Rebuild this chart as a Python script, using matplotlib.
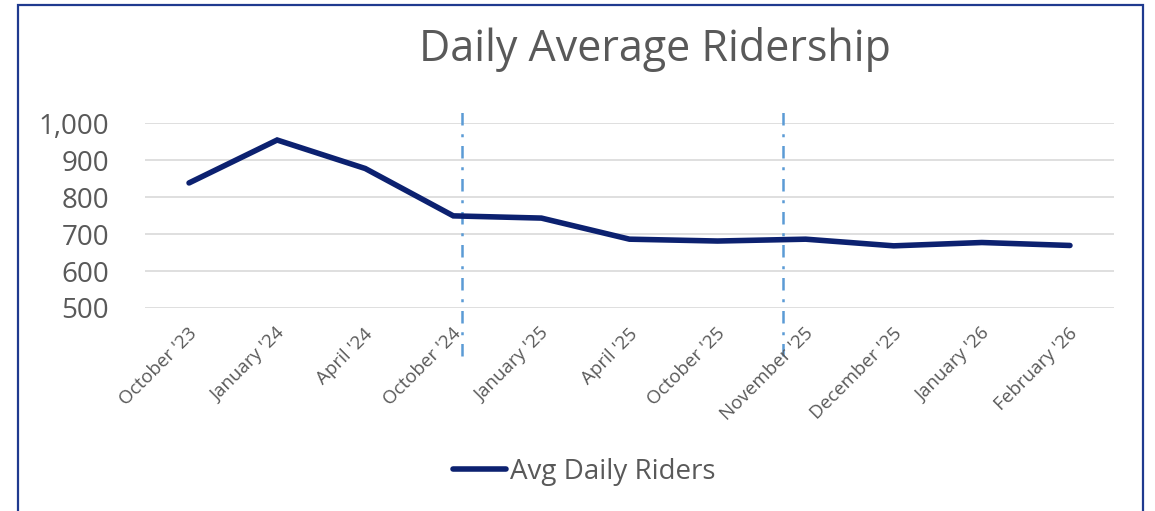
import numpy as np
import matplotlib
matplotlib.use("Agg")
import matplotlib.pyplot as plt
from matplotlib.patches import Rectangle

# data
months = ["October '23", "January '24", "April '24", "October '24", "January '25",
          "April '25", "October '25", "November '25", "December '25",
          "January '26", "February '26"]
riders = [838, 954, 877, 749, 743, 686, 681, 686, 668, 677, 669]
markers_x = [3.1, 6.74]   # dash-dot divider positions (category units)
yticks = [500, 600, 700, 800, 900, 1000]

grey = '#595959'
navy = '#0c2170'

plt.rcParams['font.family'] = ['Open Sans', 'DejaVu Sans']

fig = plt.figure(figsize=(11.55, 5.11), dpi=100)
ax = fig.add_axes([145 / 1155, 1 - 308 / 511, (1114 - 145) / 1155, (308 - 123) / 511])

x = np.arange(len(months))
ax.plot(x, riders, color=navy, lw=4, solid_capstyle='round', solid_joinstyle='miter',
        label='Avg Daily Riders', zorder=3)

# vertical dash-dot dividers that run past the plot area
for mx in markers_x:
    ax.plot([mx, mx], [370, 1040], color='#5b9bd5', lw=1.8, ls=(0, (5, 3.5, 1.2, 3.5)),
            clip_on=False, zorder=2)

ax.set_xlim(-0.5, len(months) - 0.5)
ax.set_ylim(500, 1000)
ax.set_yticks(yticks)
ax.set_yticklabels([f'{v:,}' for v in yticks], fontsize=20, color=grey)
ax.yaxis.grid(True, color='#d9d9d9', lw=1.2)
ax.set_axisbelow(True)
ax.tick_params(axis='y', length=0, pad=26)
ax.tick_params(axis='x', length=0)
for s in ax.spines.values():
    s.set_visible(False)

ax.set_xticks(x)
ax.set_xticklabels([])
for i, m in enumerate(months):
    ax.annotate(m, xy=(i, 500), xycoords='data', xytext=(-1, -12), textcoords='offset points',
                rotation=45, ha='right', va='top', rotation_mode='anchor',
                fontsize=13.5, color=grey)

fig.text(655 / 1155, 1 - 50 / 511, 'Daily Average Ridership', ha='center', va='center',
         fontsize=31, color=grey)

leg = fig.legend(loc='center', bbox_to_anchor=(584 / 1155, 1 - 472 / 511), frameon=False,
                 fontsize=20, handlelength=1.9, handletextpad=0.15)
for t in leg.get_texts():
    t.set_color(grey)

# outer border (bottom edge is cut off in the original)
fig.patches.append(Rectangle((18 / 1155, -0.05), (1143 - 18) / 1155, 1.05 - 5 / 511,
                             transform=fig.transFigure, fill=False,
                             edgecolor='#1f3a8f', lw=1.6))

fig.savefig('out.png', dpi=100, facecolor='white')
